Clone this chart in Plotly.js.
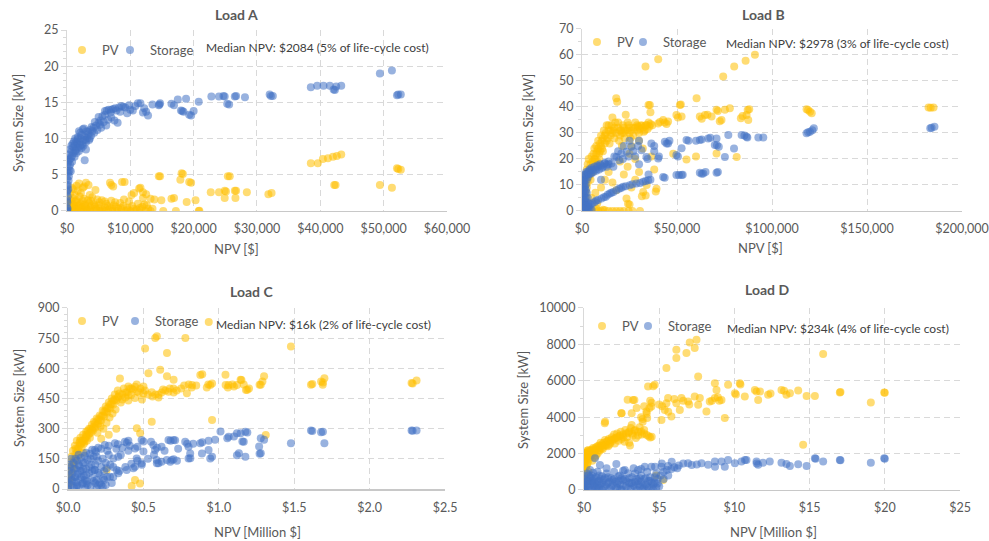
<!DOCTYPE html>
<html><head><meta charset="utf-8">
<script src="https://cdn.plot.ly/plotly-3.0.1.min.js"></script>
<style>html,body{margin:0;padding:0;background:#fff}#chart{width:989px;height:541px}</style>
</head><body><div id="chart"></div>
<script>
const panelTitles = ["Load A", "Load B", "Load C", "Load D"];
const seriesNames = ["PV", "Storage"];
const medianNotes = [
  "Median NPV: $2084 (5% of life-cycle cost)",
  "Median NPV: $2978 (3% of life-cycle cost)",
  "Median NPV: $16k (2% of life-cycle cost)",
  "Median NPV: $234k (4% of life-cycle cost)"
];
const xTitles = ["NPV [$]", "NPV [$]", "NPV [Million $]", "NPV [Million $]"];
const yTitle = "System Size [kW]";

const xTickValsA = [0, 10000, 20000, 30000, 40000, 50000, 60000];
const xTickTextA = ["$0", "$10,000", "$20,000", "$30,000", "$40,000", "$50,000", "$60,000"];
const yTickValsA = [0, 5, 10, 15, 20, 25];
const xTickValsB = [0, 50000, 100000, 150000, 200000];
const xTickTextB = ["$0", "$50,000", "$100,000", "$150,000", "$200,000"];
const yTickValsB = [0, 10, 20, 30, 40, 50, 60, 70];
const xTickValsC = [0, 0.5, 1, 1.5, 2, 2.5];
const xTickTextC = ["$0.0", "$0.5", "$1.0", "$1.5", "$2.0", "$2.5"];
const yTickValsC = [0, 150, 300, 450, 600, 750, 900];
const xTickValsD = [0, 5, 10, 15, 20, 25];
const xTickTextD = ["$0", "$5", "$10", "$15", "$20", "$25"];
const yTickValsD = [0, 2000, 4000, 6000, 8000, 10000];

// Load A  [NPV $, kW]
const pvA = [
 [0,0],[300,0],[600,0.1],[900,0],[1300,0],[1700,0.1],[2100,0],[2600,0],[3100,0.1],[3600,0],[4100,0],[4700,0.1],[5300,0],[5900,0],[6500,0.1],[7200,0],[7900,0],[8600,0.1],[9300,0],[10000,0],[10800,0],[11600,0.1],[12400,0],[13200,0],[15200,0],[17200,0],[20800,0],[20900,0.05],
 [200,0.5],[700,0.6],[1200,0.4],[1800,0.5],[2400,0.6],[3000,0.4],[3700,0.5],[4400,0.6],[5200,0.4],[6000,0.5],[6800,0.4],[7700,0.6],[8500,0.4],[9500,0.5],[10500,0.3],[11500,0.4],[12800,0.3],
 [100,1.0],[500,1.1],[1000,0.9],[1600,1.2],[2200,1.0],[2800,0.9],[3500,1.1],[4300,0.9],[5100,1.2],[6200,1.0],[7400,0.8],[8400,1.1],[9800,1.3],[11200,1.0],[12200,0.9],
 [300,1.6],[900,1.8],[1500,1.5],[2000,2.0],[2700,1.7],[3300,1.5],[4000,1.9],[5500,1.5],[7000,1.4],[9000,1.6],[10200,2.2],[12000,1.8],
 [400,0.3],[800,0.2],[1100,0.7],[1400,0.2],[1900,0.8],[2300,0.3],[2900,0.7],[3300,0.2],[3900,0.8],[4600,0.3],[5000,0.8],[5600,0.2],[6400,0.7],[7100,0.3],[7600,1.2],[8100,0.3],[8900,0.7],[9600,0.2],[10300,0.7],[11000,0.2],[11900,0.6],[12600,0.8],[13500,0.3],[600,1.4],[1300,1.3],[2500,1.4],[3800,1.4],[4800,1.6],[6000,1.3],[1200,2.2],[2200,2.5],[3600,2.2],[800,3.2],[2700,3.4],[1700,2.8],
 [500,2.4],[1000,3.0],[1500,3.5],[1900,3.8],[2500,3.2],[3000,3.9],[3400,3.6],[4500,2.9],[6800,3.9],[7000,3.6],[7300,3.4],[8700,4.0],[9100,4.0],[10600,2.5],[11400,3.1],[11600,3.2],[12000,2.6],[12500,2.3],[13200,1.7],
 [14500,4.8],[14700,4.8],[14900,1.5],[13800,1.6],[16500,1.7],[16900,1.8],[17900,4.3],[18100,5.2],[18300,5.1],[19300,4.0],[19600,3.9],[18900,1.25],[20300,1.5],
 [22700,2.6],[24000,2.6],[24900,2.8],[25100,2.7],[24900,1.8],[25400,4.8],[25700,4.8],[26500,2.8],[26700,2.8],[26600,1.8],[28400,2.6],
 [31800,2.3],[32300,2.5],[38500,6.6],[39600,6.6],[40400,7.2],[41200,7.3],[42000,7.5],[42600,7.6],[43300,7.8],[42200,3.6],[42400,3.6],[49400,3.6],[51300,3.2],[52100,5.9],[52300,5.8],[52700,5.7]
];
const stA = [
 [0,0],[0,0.1],[100,0.3],[50,1.2],[100,2.0],[0,2.6],[50,2.8],[200,3.0],[150,3.6],[250,4.2],[300,4.8],[200,5.3],[400,5.6],[300,6.1],[500,6.4],[200,6.8],[400,7.1],[100,7.3],[600,7.3],[800,7.6],[700,8.2],[1000,8.0],[1000,8.8],[1200,9.1],[1400,8.5],[1600,9.3],[1800,8.8],[1500,9.6],[2000,9.4],[2200,10.0],[2400,9.2],[2600,9.8],[2800,10.3],[3000,9.5],[3200,10.1],[3400,10.6],
 [0,0.5],[0,1.5],[0,3.5],[0,4.5],[0,5.5],[50,6.5],[300,7.8],[1300,8.3],[1700,9.9],[2100,9.0],[2900,9.8],[3600,10.0],[3900,11.6],[4400,12.3],[4800,11.2],[5200,11.9],[5800,12.3],[6000,13.8],[6900,13.6],[7600,14.2],[8400,13.7],[9200,14.3],[9800,14.6],
 [500,8.5],[700,9.0],[900,9.3],[1100,9.6],[1300,10.0],[1700,10.2],[2100,10.8],[2500,11.3],[1900,11.0],[2300,10.5],[2700,11.4],[3100,11.0],[3300,10.9],[3700,11.2],[600,5.5],[800,6.8],[1200,7.5],[1500,8.0],[1900,8.3],[2300,8.7],[2600,9.0],
 [2800,7.0],[3000,8.5],[3500,9.8],[3800,10.4],[4000,11.0],[4300,10.8],[4200,11.5],[4600,11.8],[5000,12.2],[5300,12.5],[5000,13.0],[5600,13.1],[6000,13.3],[6300,13.9],[6600,14.0],[7000,14.0],[7300,14.1],[7800,13.9],[8200,14.3],[8600,14.5],[8900,14.4],
 [6500,12.6],[7000,12.9],[7500,12.5],[8000,12.2],[6200,11.8],[5400,11.5],[9500,13.5],[10000,14.0],[10400,13.9],[10800,14.5],[11200,14.9],[11600,14.9],[12000,13.6],[12500,13.7],[12800,13.2],[12200,14.2],[13500,14.7],[14500,14.6],[14700,14.9],[14600,14.7],
 [16500,14.8],[16900,14.6],[17500,15.4],[18000,13.9],[18200,13.8],[18400,13.7],[18800,15.5],[19300,13.3],[19600,13.2],[20000,13.8],[20800,15.1],[22800,15.8],[24000,15.8],[24700,15.9],[24900,15.8],[25300,14.8],[25600,14.7],[26500,15.8],[26700,15.9],[28100,15.7],
 [32000,16.1],[32200,15.9],[32500,15.9],[38500,17.1],[39500,17.3],[40500,17.3],[41500,17.3],[42100,16.8],[42300,16.7],[42500,17.2],[43300,17.3],[49400,19.0],[51300,19.4],[52100,16.0],[52300,16.1],[52700,16.1]
];

// Load B  [NPV $, kW]
const pvB = [
 [500,0],[1500,0],[3000,0.3],[5000,0],[7000,0.2],[8500,0],[10000,0],[12000,0.3],[14000,0],[16000,0],[18000,0],[20000,0],[22000,0],[24500,0],[26500,0],[30500,0],[7500,1],[11000,0.5],[25000,2.5],
 [300,2],[500,4],[800,6],[1000,8],[1200,10],[1500,12],[2000,14],[2500,16],[3000,18],[3500,20],[1800,10],[2200,12],[2800,14],[4000,16],[4500,18],[5000,21],[5500,19],[6000,22],[6500,24],[7000,20],[7500,25],[8000,23],[8500,27],[9000,22],[9500,26],[10000,29],[10500,24],[11000,28],[11500,31],[12000,26],[12500,30],[13000,33],[13500,28],[14000,31],[14500,26],[15000,29],[15500,33],[16000,36],[16500,31],[17000,28],[17500,34],[18000,43.4],[18500,42],[18000,30],[19000,32],[19500,27],[20000,29],[20500,31],[21000,25],[21500,33],[22000,30],[22500,28],[23000,37],[24000,31],[24500,33],[25000,30],[25500,28],[26000,25],[27000,32],[28000,34],[29000,31],[29500,32.5],[30500,31.5],[31500,32.8],[32500,30.5],[33500,33],[34500,31.5],[35500,32.5],[36000,33.5],[35000,40.8],[36000,38],[30000,27],[32000,24],[28000,20],[25000,22],
 [1000,3],[1500,5],[2000,7],[2500,9],[3000,11],[3500,13],[4000,14],[4500,12],[5000,16],[5500,15],[6000,18],[6500,20],[7000,17],[7500,22],[8000,19],[8500,24],[9000,20],[9500,23],[10000,25],[10500,27],[11000,23],[12000,29],[13000,27],[14000,33],[15000,31],[16000,30],[17000,32],[19000,34],[20000,31],[21000,30],[22000,32],[23000,31],[24000,34],[25000,32],[26000,31],[27000,29],[28000,32],[29000,33],[30000,30],[31000,33],[32000,32],[33000,31],[34000,33],[35000,34],[37000,33],
 [5000,5],[7000,7],[8000,3],[10000,9],[12000,12],[14000,15],[16000,11],[18000,8],[20000,19],[22000,14],[24000,17],[26000,9],[28000,12],[30000,15],[31500,5.7],[32200,7.3],[33500,6.0],[39200,8.6],[38800,7.5],[23400,4.8],[24200,2.8],[34000,10],[38000,16],[36500,21],
 [40100,33.7],[41000,34.2],[42700,35],[43500,34],[45300,34.4],[44500,33.5],[49700,36.9],[50500,36],[52400,36.3],[51500,40.8],[52000,41],[62000,36.3],[63000,35.5],[64700,36.9],[66000,37],[68200,36.3],[70800,38.9],[71500,38.5],[75200,38.9],[73400,35],[72500,34.5],[83600,35.7],[84500,36.5],[86600,36.9],[87500,35],[88000,39.1],[87200,38.8],[77800,39.5],[118200,39.1],[119000,38.8],[120000,38.2],[120900,37.6],[182400,39.8],[183500,39.7],[185000,39.8],
 [33400,55.6],[40100,58.4],[74300,51.7],[80100,55.6],[86100,57.8],[91000,60.1],[60300,43.4],[35700,40.8],[70800,22.1],[55000,19.8],[81400,20.8],[60000,21],[48000,22]
];
const stB = [
 [0,0],[300,1],[500,2],[300,3],[600,4],[400,5],[800,6],[500,7],[1000,8],[700,9],[1200,10],[900,11],[1500,12],[1300,13],[1800,14],[2200,15],[2000,1],[1500,0],[3000,0.5],[4000,1],[5000,0.5],[2500,2],[3500,3],[2000,5],[0,3],[0,6],[0,9],[200,12],[1000,4],[1500,7],
 [500,10],[1000,12],[1500,14],[2000,10],[2500,12],[3000,13],[1000,6],[1500,9],[2000,8],[2500,7],[1000,3],[1500,4],[2000,3.5],[3500,14],[4000,15.5],[4500,14.5],[5000,16.5],[6000,15],[7000,16],[8000,17.5],[9000,16],[10000,17.5],[11000,17],[12000,18.5],[13000,17.8],[14000,18],[3000,5],[3500,2],
 [2500,14],[3000,15],[3500,14.5],[4000,16],[4900,14.4],[5500,16],[6500,17],[7500,15.5],[8400,17],[9500,18],[10500,16.5],[11900,18.3],[13000,17],[14000,19],[15500,18.3],[16500,17],[17000,21],[18100,20.8],[19500,19.5],[20700,22.1],[21500,20],[23400,22.8],[24500,21],[26000,24.7],[27000,23],[28000,21],[29500,25],[31300,23.4],[33900,20.8],[34500,20],[36500,26],[38000,25],[40100,20.2],[40500,21],[43600,26.6],[44500,26],[45300,26],
 [49700,21.5],[50500,21],[52400,24.1],[55000,27.3],[56000,27],[62000,27.3],[63000,27.5],[66400,27.9],[67500,28.2],[69900,25.4],[70800,27.9],[72000,24.7],[71000,25.3],[75200,20.8],[77000,29.2],[84000,29.2],[85500,29],[86600,28.6],[87000,28.3],[92800,28.3],[95400,28.3],[118200,29.9],[119000,30.3],[120000,30.5],[121200,31.1],[122000,31.8],[183300,31.8],[184000,32],[185500,32.4],
 [25000,27],[22000,25],[19000,23],[30000,27],[35000,14],[38000,23],[46000,27],[60000,27],[80000,24],[65000,15],[30000,18],[10000,12],
 [1000,1],[2000,2],[3200,1.5],[4500,2.5],[5500,3],[6700,3.5],[7500,4],[8500,4.2],[10200,4.8],[11500,5.3],[12500,5.5],[13500,6.2],[14600,6.7],[15500,7],[16500,7.3],[18100,8],[19500,8.6],[20500,8.8],[21600,9.3],[23000,9.5],[25100,9.9],[26500,10.3],[28600,10.6],[30500,10.8],[32200,11.2],[33500,11.5],[34800,11.8],[36000,12],[42700,13.1],[43500,12.8],[49700,13.8],[51000,13.8],[52400,13.8],[53000,13.9],[62000,14.7],[63000,14.3],[63800,14.4],[70800,14.7],[71500,15]
];

// Load C  [NPV million $, kW]
const pvC = [
 [0,15],[0,40],[0,70],[0.005,100],[0.01,55],[0.012,130],[0.02,90],[0.022,160],[0.03,120],[0.032,190],[0.04,150],[0.045,215],[0.05,175],[0.058,240],[0.062,200],[0.07,165],[0.075,230],[0.082,255],[0.09,205],[0.095,240],[0.1,270],[0.105,225],[0.112,250],[0.12,285],[0.125,240],[0.13,265],[0.14,300],[0.145,255],[0.15,280],[0.158,320],[0.165,290],[0.172,335],[0.18,305],[0.19,350],[0.195,280],[0.2,325],[0.21,365],[0.215,310],[0.22,340],[0.23,390],[0.235,300],[0.24,360],[0.25,410],[0.255,330],[0.26,380],[0.27,430],[0.275,355],[0.28,400],[0.29,450],[0.295,375],[0.3,420],[0.31,470],[0.315,395],[0.32,440],[0.33,490],[0.335,460],[0.344,550],[0.35,430],[0.36,470],[0.37,500],[0.38,455],[0.39,480],[0.4,440],[0.41,500],[0.42,470],[0.43,495],[0.444,509],[0.444,452],[0.455,520],[0.47,480],[0.48,500],[0.49,445],[0.5,510],[0.51,490],[0.53,470],[0.555,481],[0.56,460],[0.58,470],[0.6,455],[0.62,480],[0.645,490],[0.666,484],[0.675,500],[0.699,500],[0.72,490],[0.77,515],[0.788,476],[0.8,520],[0.822,517],[0.85,515],[0.877,567],[0.89,570],[0.93,520],[0.943,517],[0.955,525],[1.045,517],[1.065,517],[1.1,510],[1.12,517],[1.15,542],[1.165,520],[1.18,492],[1.189,493],[1.27,518],[1.278,518],[1.289,535],[1.611,518],[1.62,522],[1.678,535],[1.689,518],[1.69,530],[2.278,527],[2.285,525],
 [0.01,30],[0.02,60],[0.03,100],[0.04,120],[0.05,140],[0.06,180],[0.07,200],[0.08,220],[0.09,230],[0.1,240],[0.11,235],[0.12,260],[0.13,290],[0.14,275],[0.15,300],[0.16,295],[0.17,310],[0.18,330],[0.19,320],[0.2,345],[0.21,340],[0.22,360],[0.23,365],[0.24,385],[0.25,385],[0.26,400],[0.27,405],[0.28,420],[0.29,425],[0.3,440],[0.31,445],[0.33,455],[0.34,475],[0.36,445],[0.38,480],[0.4,465],[0.42,500],[0.46,485],[0.5,475],[0.6,470],[0.63,495],[0.7,480],[0.75,500],[0.82,505],[0.92,505],[1.06,505],[1.09,520],[1.2,500],[0.4,510],[0.05,200],[0.08,240],[0.12,270],
 [0.511,698],[0.578,751],[0.589,759],[0.778,751],[0.656,676],[0.611,593],[0.533,576],[0.656,560],[0.7,543],[0.933,830],[1.044,568],[1.144,543],[1.3,560],[1.478,709],[1.7,551],[2.311,540],[1.311,269],[0.955,343],[0.555,335],[0.444,45],[0.477,28],[0.422,15],[0.456,302],[0.478,277],[0.256,95],[0.22,250],[0.27,270],[0.32,300],[0.1,180]
];
const stC = [
 [0,0],[0,10],[0.005,30],[0,50],[0.01,70],[0.005,90],[0.015,110],[0.02,20],[0.025,45],[0.03,80],[0.035,130],[0.04,5],[0.045,60],[0.05,100],[0.055,35],[0.06,140],[0.065,75],[0.07,15],[0.075,115],[0.08,50],[0.085,155],[0.09,90],[0.095,25],[0.1,130],[0.105,65],[0.11,165],[0.115,5],[0.12,100],[0.125,40],[0.13,145],[0.14,80],[0.145,175],[0.15,15],[0.155,120],[0.16,55],[0.17,160],[0.175,95],[0.18,30],[0.185,185],[0.19,5],[0.2,140],[0.21,70],[0.22,20],[0.23,10],[0.24,45],
 [0.01,120],[0.02,150],[0.03,40],[0.04,100],[0.05,60],[0.06,20],[0.07,120],[0.08,90],[0.09,60],[0.1,30],[0.1,100],[0.11,130],[0.12,70],[0.13,20],[0.14,110],[0.15,150],[0.16,90],[0.17,40],[0.18,120],[0.19,160],[0.2,80],[0.21,30],[0.22,110],[0.23,150],[0.24,90],[0.25,20],[0.26,60],[0.27,170],[0.28,120],[0.29,30],[0.05,150],[0.07,170],[0.12,180],[0.16,195],[0.22,200],[0.26,190],[0.32,200],[0.36,205],[0.41,215],[0.3,60],[0.34,90],[0.38,110],[0.42,125],[0.46,140],[0.53,150],[0.57,170],[0.64,190],[0.73,200],[0.83,225],[0.4,240],[0.55,235],[0.62,210],
 [0.178,194],[0.2,205],[0.244,219],[0.27,215],[0.311,227],[0.33,222],[0.377,235],[0.39,230],[0.444,202],[0.46,210],[0.488,244],[0.5,236],[0.566,219],[0.577,194],[0.59,205],[0.666,244],[0.68,240],[0.699,244],[0.71,242],[0.777,235],[0.79,225],[0.799,210],[0.877,227],[0.89,232],[0.932,240],[0.975,245],[1.011,286],[1.056,252],[1.065,260],[1.1,261],[1.12,277],[1.144,277],[1.176,285],[1.189,281],[1.165,235],[1.156,236],[1.12,168],[1.133,178],[1.176,160],[1.278,252],[1.267,211],[1.278,178],[1.27,175],[1.3,245],[1.478,228],[1.611,291],[1.62,288],[1.678,282],[1.69,285],[1.7,228],[2.278,291],[2.285,290],[2.311,291],
 [0.3,152],[0.333,160],[0.455,152],[0.5,186],[0.588,144],[0.655,144],[0.688,144],[0.7,148],[0.799,152],[0.81,177],[0.888,177],[0.943,152],[0.955,160],[0.932,194],[0.6,128],[0.62,135],[0.3,110],[0.25,130],[0.35,170],[0.4,190],
 [0.056,12],[0.111,45],[0.122,28],[0.178,94],[0.2,20],[0.189,45],[0.233,53],[0.255,103],[0.278,61],[0.322,94],[0.333,78],[0.389,94],[0.433,103],[0.444,111],[0.488,128],[0.489,120],[0.589,128],[0.678,136],[0.722,141],[0.811,153]
];

// Load D  [NPV million $, kW]
const pvD = [
 [0,100],[0,300],[0,500],[0,700],[0,900],[0,1100],[0,1300],[0,1500],[0,1700],[0,1900],[0.05,2000],[0.1,1200],[0.1,1600],[0.15,2050],[0.2,1400],[0.2,1800],[0.25,2100],[0.3,1000],[0.35,1700],[0.4,2150],[0.45,1900],[0.5,2200],[0.55,1600],[0.6,2050],[0.65,2250],[0.7,1800],[0.75,2200],[0.8,2350],[0.9,2000],[0.95,2300],[1.0,2450],[1.05,2150],[1.1,2400],[1.2,2500],[1.25,2250],[1.3,2600],[1.4,2450],[1.4,2745],[1.5,2650],[1.6,2400],[1.65,2800],[1.75,2600],[1.85,2900],[1.9,2700],[2.0,3050],[2.05,2550],[2.1,2850],[2.2,3100],[2.3,2700],[2.35,2950],[2.45,3200],[2.5,2800],[2.6,3050],[2.7,2650],[2.75,3300],[2.85,2900],[2.95,3150],[3.0,2600],[3.06,2450],[3.1,3400],[3.17,3570],[3.25,3000],[3.35,3250],[3.45,2850],[3.6,3200],[3.7,3450],[3.85,3050],[3.9,3750],[4.0,3300],[4.17,3020],[4.3,2950],[4.5,2930],[4.4,2880],
 [0,200],[0,400],[0,600],[0,800],[0,1000],[0,1200],[0,1400],[0,1600],[0,1800],[0,2000],[0.05,1500],[0.1,2000],[0.15,1700],[0.2,2150],[0.3,1900],[0.3,2200],[0.4,1800],[0.5,1950],[0.6,2300],[0.7,2100],[0.8,1900],[0.9,2400],[1.0,2200],[1.1,2600],[1.2,2300],[1.3,2450],[1.5,2450],[1.6,2700],[1.7,2500],[1.8,2750],[2.0,2800],[2.2,2900],[2.4,3000],[2.6,2900],[2.8,3100],[3.0,3200],[3.2,3100],[3.4,3300],[3.6,3000],[3.8,3200],[4.0,3100],[0.05,800],[0.1,400],[0.1,900],[0.15,1300],[0.2,600],[0.25,1500],
 [1.4,3750],[2.5,4210],[3.35,4940],[3.17,4210],[4.17,4210],[3.5,4500],[3.8,4000],[4.0,4600],[4.26,5690],[4.4,4900],[4.48,4590],[4.15,4310],[4.7,5780],[4.6,5700],[3.26,4950],[2.48,4220],[1.38,3670],[3.9,3900],[4.35,4500],[4.2,3950],[4.5,4800],
 [5.15,3850],[5.37,4400],[5.59,5050],[5.48,4770],[5.81,4040],[6.14,4770],[6.37,4400],[6.48,5050],[6.92,4860],[7.36,5140],[7.59,4680],[7.7,5050],[8.14,4310],[8.36,4860],[8.7,5050],[8.81,5500],[9.14,4950],[10.03,5320],[10.36,5870],[10.4,5800],[10.69,5140],[11.47,5410],[11.7,5410],[11.58,4950],[12.24,5230],[12.4,5300],[13.13,5500],[13.3,5450],[13.46,5230],[13.69,5320],[14.24,5470],[14.8,5170],[15.35,5170],[17.01,5360],[17.05,5380],[19.96,5360],[20.0,5340],
 [5.2,4600],[5.6,4300],[6.0,5000],[6.6,4900],[7.0,4700],[8.5,4900],[8.9,5100],[9.0,4900],[10.1,5250],[5.0,4700],
 [5.48,6700],[6.14,7710],[6.14,7250],[6.81,7520],[7.03,8110],[7.36,7800],[7.48,8260],[7.59,6240],[8.7,5870],[9.58,5780],[9.36,3950],[11.36,5500],[15.9,7470],[14.57,2480],[19.07,4810],[5.26,550],[4.8,800],[2.9,4960]
];
const stD = [
 [0,0],[0,100],[0,250],[0,400],[0,600],[0,800],[0.1,50],[0.2,300],[0.3,500],[0.3,150],[0.4,700],[0.5,0],[0.5,400],[0.6,250],[0.7,600],[0.73,1740],[0.8,100],[0.9,450],[1.0,800],[1.06,1370],[1.1,300],[1.2,0],[1.3,550],[1.4,200],[1.5,900],[1.6,400],[1.7,50],[1.8,650],[1.9,250],[2.0,1000],[2.1,450],[2.15,1430],[2.2,100],[2.3,750],[2.4,300],[2.5,0],[2.6,550],[2.71,1100],[2.8,200],[2.93,920],[3.0,400],[3.1,50],[3.2,700],[3.3,250],[3.4,900],[3.5,0],[3.59,1100],[3.6,500],[3.7,200],[3.8,800],[3.9,50],[4.04,1280],[4.0,600],[4.1,300],[4.2,1000],[4.3,100],[4.48,1280],[4.4,700],[4.5,400],[4.6,0],[4.72,1280],[4.8,900],[4.9,600],[5.0,200],
 [0.2,900],[0.4,1100],[0.6,950],[1.5,1200],[2.6,1050],[3.3,1200],[0.9,1000],[1.2,750],[2.4,800],[3.8,1150],[4.7,700],[0.1,450],[0.3,800],[0.5,650],[0.7,200],[0.9,50],[1.1,600],[1.3,150],[1.6,700],[1.9,550],[2.2,350],[2.5,650],[2.8,500],[3.1,350],[3.4,450],[3.7,650],[4.0,150],[4.3,500],[4.6,300],
 [0.1,150],[0.2,500],[0.3,0],[0.4,300],[0.5,800],[0.6,500],[0.7,400],[0.8,700],[0.9,250],[1.0,100],[1.0,500],[1.2,400],[1.4,650],[1.5,300],[1.7,450],[1.8,150],[2.0,600],[2.1,150],[2.3,500],[2.4,50],[2.6,250],[2.7,600],[2.9,100],[3.0,650],[3.2,400],[3.4,150],[3.5,600],[3.6,300],[3.8,450],[3.9,250],[4.1,650],[4.2,200],[4.4,500],[4.5,100],[4.7,400],[4.8,150],[4.9,350],[5.1,800],[5.3,600],[5.5,1100],[5.8,1150],[6.2,1200],
 [5.15,1280],[5.17,1460],[5.3,1000],[5.59,1320],[5.6,800],[5.83,1550],[6.0,1250],[6.3,1350],[6.6,1450],[6.92,1470],[7.16,1370],[7.5,1400],[7.81,1470],[8.25,1380],[8.7,1560],[8.71,1280],[9.14,1560],[9.36,1280],[9.58,1650],[10.03,1470],[10.47,1560],[10.7,1650],[10.8,1650],[11.47,1560],[11.48,1460],[11.58,1380],[11.9,1500],[12.35,1560],[13.13,1500],[13.46,1430],[13.69,1320],[14.24,1410],[14.8,1320],[15.35,1740],[15.4,1720],[15.9,1560],[17.01,1650],[17.05,1640],[19.07,1500],[19.96,1740],[20.0,1720]
];

const FONT = "Lato, 'Open Sans', sans-serif";
const TXT = "#595959";
const PV_COLOR = "#FFC000";
const ST_COLOR = "#4472C4";

const panels = [
  {pv: pvA, st: stA, xr: [0, 60000], yr: [0, 25], xtv: xTickValsA, xtt: xTickTextA, ytv: yTickValsA, ymin: 1,
   xd: [0.0677, 0.4520], yd: [0.6100, 0.9445], title: [0.2396, 0.9723], xt: [0.2396, 0.5397], yt: [0.0182, 0.7726], note: [0.3215, 0.9113], leg: [0.0627, 0.1112, 0.9076]},
  {pv: pvB, st: stB, xr: [0, 200000], yr: [0, 70], xtv: xTickValsB, xtt: xTickTextB, ytv: yTickValsB, ymin: 5,
   xd: [0.5885, 0.9727], yd: [0.6100, 0.9464], title: [0.7715, 0.9723], xt: [0.7685, 0.5416], yt: [0.5339, 0.7726], note: [0.8473, 0.9205], leg: [0.5834, 0.6299, 0.9224]},
  {pv: pvC, st: stC, xr: [0, 2.5], yr: [0, 900], xtv: xTickValsC, xtt: xTickTextC, ytv: yTickValsC, ymin: 30,
   xd: [0.0688, 0.4500], yd: [0.0961, 0.4307], title: [0.2548, 0.4621], xt: [0.2599, 0.0172], yt: [0.0192, 0.2643], note: [0.3276, 0.3993], leg: [0.0627, 0.1163, 0.4067]},
  {pv: pvD, st: stD, xr: [0, 25], yr: [0, 10000], xtv: xTickValsD, xtt: xTickTextD, ytv: yTickValsD, ymin: 1000,
   xd: [0.5905, 0.9707], yd: [0.0943, 0.4307], title: [0.7755, 0.4640], xt: [0.7816, 0.0172], yt: [0.5288, 0.2606], note: [0.8473, 0.3937], leg: [0.5885, 0.6350, 0.3974]}
];

const traces = [];
const layout = {
  width: 989, height: 541,
  margin: {l: 0, r: 0, t: 0, b: 0},
  paper_bgcolor: "#ffffff", plot_bgcolor: "#ffffff",
  font: {family: FONT, color: TXT, size: 12},
  showlegend: true,
  annotations: []
};

panels.forEach((p, i) => {
  const n = i === 0 ? "" : String(i + 1);
  [[p.pv, PV_COLOR, seriesNames[0]], [p.st, ST_COLOR, seriesNames[1]]].forEach(([pts, col, name], k) => {
    const li = 2 * i + k + 1;
    const legName = li === 1 ? "legend" : "legend" + li;
    traces.push({
      type: "scatter", mode: "markers", name: name,
      x: pts.map(d => d[0]), y: pts.map(d => d[1]),
      xaxis: "x" + n, yaxis: "y" + n, legend: legName,
      marker: {color: col, size: 8, opacity: 0.55, line: {width: 0}},
      hoverinfo: "x+y"
    });
    layout[legName] = {
      x: p.leg[k], y: p.leg[2], xanchor: "left", yanchor: "middle", orientation: "h",
      bgcolor: "rgba(0,0,0,0)", borderwidth: 0, font: {family: FONT, size: 13, color: TXT},
      itemwidth: 30
    };
  });
  layout["xaxis" + n] = {
    domain: p.xd, anchor: "y" + n, range: p.xr, tickmode: "array", tickvals: p.xtv, ticktext: p.xtt,
    showgrid: true, gridcolor: "#D9D9D9", griddash: "6px,4px", gridwidth: 1,
    showline: true, linecolor: "#C8C8C8", linewidth: 1.5, zeroline: false,
    ticks: "", tickfont: {family: FONT, size: 12.5, color: TXT}, ticklabelstandoff: 6, fixedrange: true
  };
  layout["yaxis" + n] = {
    domain: p.yd, anchor: "x" + n, range: p.yr, tickmode: "array", tickvals: p.ytv, ticktext: p.ytv.map(String),
    showgrid: true, gridcolor: "#D9D9D9", griddash: "6px,4px", gridwidth: 1,
    showline: true, linecolor: "#D9D9D9", linewidth: 1, zeroline: false,
    ticks: "outside", ticklen: 5, tickcolor: "#D9D9D9",
    minor: {dtick: p.ymin, ticks: "outside", ticklen: 3, tickcolor: "#D9D9D9", showgrid: false},
    tickfont: {family: FONT, size: 12.5, color: TXT}, fixedrange: true
  };
  layout.annotations.push(
    {xref: "paper", yref: "paper", x: p.title[0], y: p.title[1], text: "<b>" + panelTitles[i] + "</b>", showarrow: false,
     xanchor: "center", yanchor: "middle", font: {family: FONT, size: 14, color: TXT}},
    {xref: "paper", yref: "paper", x: p.xt[0], y: p.xt[1], text: xTitles[i], showarrow: false,
     xanchor: "center", yanchor: "middle", font: {family: FONT, size: 13, color: TXT}},
    {xref: "paper", yref: "paper", x: p.yt[0], y: p.yt[1], text: yTitle, showarrow: false, textangle: -90,
     xanchor: "center", yanchor: "middle", font: {family: FONT, size: 13, color: TXT}},
    {xref: "paper", yref: "paper", x: p.note[0], y: p.note[1], text: medianNotes[i], showarrow: false,
     xanchor: "center", yanchor: "middle", font: {family: FONT, size: 12, color: "#404040"}}
  );
});

Plotly.newPlot("chart", traces, layout, {displayModeBar: false, staticPlot: true});
</script>
</body></html>
